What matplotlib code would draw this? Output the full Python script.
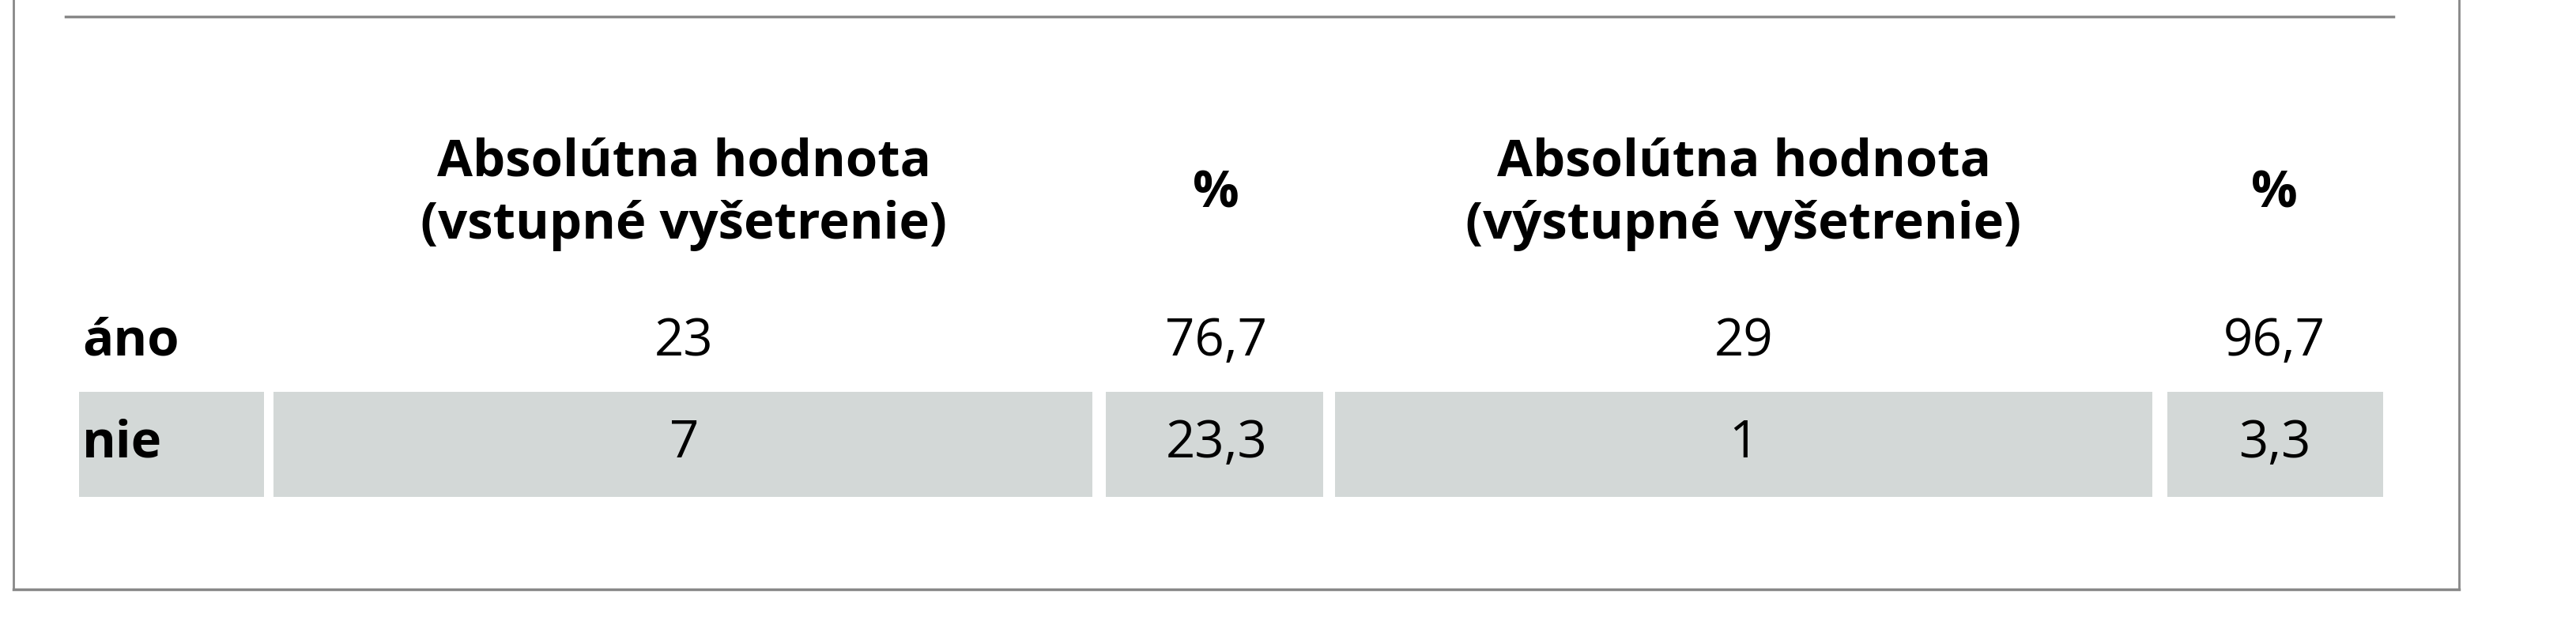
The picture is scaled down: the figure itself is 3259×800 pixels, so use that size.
import matplotlib
matplotlib.use("Agg")
import matplotlib.pyplot as plt
from matplotlib.patches import Rectangle
from matplotlib.lines import Line2D

headers = ["Absolútna hodnota\n(vstupné vyšetrenie)", "%", "Absolútna hodnota\n(výstupné vyšetrenie)", "%"]
row_labels = ["áno", "nie"]
values = [["23", "76,7", "29", "96,7"], ["7", "23,3", "1", "3,3"]]

W, H = 1563.0, 384.0
fig = plt.figure(figsize=(32.59, 8), dpi=100)
ax = fig.add_axes([0, 0, 1, 1])
ax.set_xlim(0, W); ax.set_ylim(H, 0); ax.axis("off")

gray = "#888888"
ax.add_line(Line2D([40, 1452], [10, 10], color=gray, lw=2.5))
ax.add_line(Line2D([8, 8], [0, 358], color=gray, lw=2))
ax.add_line(Line2D([1492, 1492], [0, 358], color=gray, lw=2))
ax.add_line(Line2D([8, 1492], [358, 358], color=gray, lw=2.5))

col_centers = [415, 738, 1058, 1380]
cells = [(48, 160), (166, 663), (671, 803), (810, 1306), (1315, 1446)]
fill = "#d3d8d7"
for x0, x1 in cells:
    ax.add_patch(Rectangle((x0, 238), x1 - x0, 64, color=fill, lw=0))

font = "Open Sans"
fs = 47
for cx, h in zip(col_centers, headers):
    ax.text(cx, 118, h, ha="center", va="center", fontsize=fs, fontweight="bold",
            family=font, linespacing=1.3)
row_y = [208, 270]
for ry, lab, vals in zip(row_y, row_labels, values):
    ax.text(50, ry, lab, ha="left", va="center", fontsize=fs, fontweight="bold", family=font)
    for cx, v in zip(col_centers, vals):
        ax.text(cx, ry, v, ha="center", va="center", fontsize=fs, family=font)

fig.savefig("out.png", dpi=100, facecolor="white")
